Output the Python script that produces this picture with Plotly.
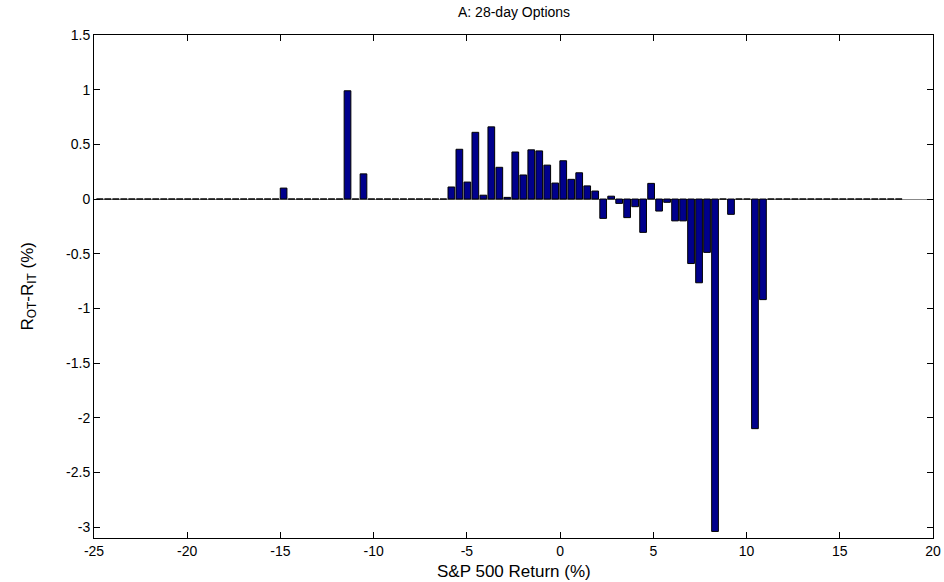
import plotly.graph_objects as go

# Bin centers of S&P 500 return (%)
bin_centers = [
    -24.686, -24.258, -23.829, -23.400, -22.972, -22.543, -22.115, -21.687, -21.258, -20.830,
    -20.401, -19.973, -19.544, -19.116, -18.687, -18.259, -17.830, -17.402, -16.973, -16.545,
    -16.116, -15.688, -15.259, -14.831, -14.402, -13.974, -13.545, -13.117, -12.688, -12.260,
    -11.831, -11.403, -10.974, -10.546, -10.117, -9.689, -9.260, -8.832, -8.403, -7.975,
    -7.546, -7.118, -6.689, -6.261, -5.832, -5.404, -4.975, -4.547, -4.118, -3.690,
    -3.261, -2.833, -2.404, -1.976, -1.547, -1.119, -0.690, -0.262, 0.167, 0.596,
    1.024, 1.453, 1.881, 2.310, 2.738, 3.167, 3.595, 4.024, 4.452, 4.881,
    5.309, 5.738, 6.166, 6.595, 7.023, 7.452, 7.880, 8.309, 8.737, 9.166,
    9.594, 10.023, 10.451, 10.880, 11.308, 11.737, 12.165, 12.594, 13.022, 13.451,
    13.879, 14.308, 14.736, 15.165, 15.593, 16.022, 16.450, 16.879, 17.307, 17.736,
    18.164,
]

# R_OT - R_IT (%) per bin
diff_values = [
    0, 0, 0, 0, 0, 0, 0, 0, 0, 0,
    0, 0, 0, 0, 0, 0, 0, 0, 0, 0,
    0, 0, 0, 0.10, 0, 0, 0, 0, 0, 0,
    0, 0.99, 0, 0.23, 0, 0, 0, 0, 0, 0,
    0, 0, 0, 0, 0.11, 0.455, 0.155, 0.61, 0.035, 0.66,
    0.29, 0.015, 0.43, 0.22, 0.45, 0.44, 0.31, 0.146, 0.35, 0.18,
    0.24, 0.12, 0.073, -0.177, 0.026, -0.04, -0.17, -0.07, -0.305, 0.143,
    -0.11, -0.03, -0.20, -0.20, -0.59, -0.766, -0.488, -3.04, 0, -0.14,
    0, 0, -2.10, -0.92, 0, 0, 0, 0, 0, 0,
    0, 0, 0, 0, 0, 0, 0, 0, 0, 0,
    0,
]

x_ticks = [-25, -20, -15, -10, -5, 0, 5, 10, 15, 20]
x_tick_labels = ["-25", "-20", "-15", "-10", "-5", "0", "5", "10", "15", "20"]
y_ticks = [1.5, 1, 0.5, 0, -0.5, -1, -1.5, -2, -2.5, -3]
y_tick_labels = ["1.5", "1", "0.5", "0", "-0.5", "-1", "-1.5", "-2", "-2.5", "-3"]

FONT = "Arial, Liberation Sans, Helvetica, sans-serif"

fig = go.Figure()
fig.add_trace(go.Bar(
    x=bin_centers,
    y=diff_values,
    width=0.36,
    marker=dict(color="#00008c", line=dict(color="black", width=1)),
    showlegend=False,
    hoverinfo="x+y",
))

axis_common = dict(
    showline=True, linecolor="black", linewidth=1, mirror="ticks",
    ticks="inside", ticklen=6, tickwidth=1, tickcolor="black",
    showgrid=False, automargin=False,
    tickfont=dict(family=FONT, size=14, color="black"),
)

fig.update_layout(
    width=944, height=582,
    autosize=False,
    paper_bgcolor="white", plot_bgcolor="white",
    margin=dict(l=93.5, r=10.7, t=35, b=44, autoexpand=False),
    xaxis=dict(range=[-25, 20], tickvals=x_ticks, ticktext=x_tick_labels,
               zeroline=False, **axis_common),
    yaxis=dict(range=[-3.1, 1.5], tickvals=y_ticks, ticktext=y_tick_labels,
               zeroline=True, zerolinecolor="#888888", zerolinewidth=1,
               **axis_common),
    annotations=[
        dict(text="A: 28-day Options", xref="paper", yref="paper", x=0.5, y=1,
             yshift=23, yanchor="middle", xanchor="center", showarrow=False,
             font=dict(family=FONT, size=14, color="black")),
        dict(text="S&P 500 Return (%)", xref="paper", yref="paper", x=0.5, y=0,
             yshift=-33, yanchor="middle", xanchor="center", showarrow=False,
             font=dict(family=FONT, size=17, color="black")),
        dict(text="R<sub>OT</sub>-R<sub>IT</sub> (%)", xref="paper", yref="paper",
             x=0, y=0.5, xshift=-66, yanchor="middle", xanchor="center",
             textangle=-90, showarrow=False,
             font=dict(family=FONT, size=17, color="black")),
    ],
)

post = (
    "document.body.style.margin='0';"
    "document.body.style.overflow='hidden';"
    "document.documentElement.style.overflow='hidden';"
    "var gd=document.getElementById('{plot_id}');"
    "Plotly.relayout(gd,{width:944,height:582});"
)
fig.write_html("out.html", post_script=post,
               config={"displayModeBar": False, "responsive": False})
